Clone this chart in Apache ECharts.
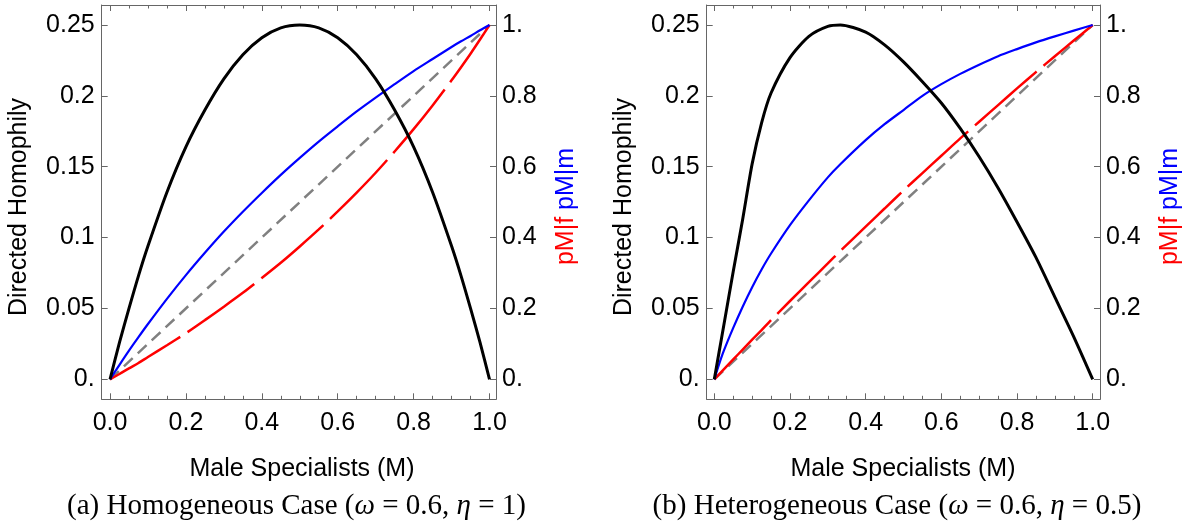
<!DOCTYPE html>
<html><head><meta charset="utf-8">
<script src="https://cdn.jsdelivr.net/npm/echarts@6/dist/echarts.min.js"></script>
<style>html,body{margin:0;padding:0;background:#fff}#c{width:1192px;height:525px}</style>
</head><body><div id="c"></div>
<script>
// ---- tick values ----
const xTicks = [0, 0.2, 0.4, 0.6, 0.8, 1.0];
const xMinorTicks = [0.05, 0.1, 0.15, 0.25, 0.3, 0.35, 0.45, 0.5, 0.55, 0.65, 0.7, 0.75, 0.85, 0.9, 0.95];
const leftTicks = [0, 0.05, 0.1, 0.15, 0.2, 0.25];
const rightTicks = [0, 0.2, 0.4, 0.6, 0.8, 1.0];

// ---- diagonal reference (gray dashed) ----
const diagM = [0, 1];
const diagP = [0, 1];

// ---- (a) Homogeneous case ----
const mA = [0, 0.025, 0.05, 0.075, 0.1, 0.15, 0.2, 0.25, 0.3, 0.35, 0.4, 0.45, 0.5, 0.55, 0.6, 0.65, 0.7, 0.75, 0.8, 0.85, 0.9, 0.925, 0.95, 0.975, 1];
const blackA = [0, 0.026, 0.050, 0.073, 0.094, 0.132, 0.164, 0.190, 0.212, 0.229, 0.241, 0.248, 0.25, 0.248, 0.241, 0.229, 0.212, 0.190, 0.164, 0.132, 0.094, 0.073, 0.050, 0.026, 0];
const blueA = [0, 0.041, 0.081, 0.119, 0.156, 0.227, 0.294, 0.357, 0.417, 0.473, 0.526, 0.577, 0.625, 0.671, 0.714, 0.756, 0.795, 0.833, 0.870, 0.904, 0.938, 0.954, 0.969, 0.985, 1];
const redA = [0, 0.015, 0.031, 0.046, 0.063, 0.096, 0.130, 0.167, 0.205, 0.244, 0.286, 0.329, 0.375, 0.423, 0.474, 0.527, 0.583, 0.643, 0.706, 0.773, 0.844, 0.881, 0.919, 0.959, 1];

// ---- (b) Heterogeneous case ----
const mB = [0, 0.0125, 0.025, 0.05, 0.075, 0.1, 0.125, 0.15, 0.2, 0.25, 0.3, 0.333, 0.4, 0.45, 0.5, 0.55, 0.6, 0.65, 0.7, 0.75, 0.8, 0.85, 0.9, 0.95, 1];
const blackB = [0, 0.019, 0.038, 0.076, 0.113, 0.152, 0.181, 0.202, 0.227, 0.242, 0.249, 0.25, 0.245, 0.236, 0.224, 0.210, 0.195, 0.177, 0.157, 0.135, 0.111, 0.086, 0.058, 0.030, 0];
const blueB = [0, 0.042, 0.08, 0.145, 0.205, 0.26, 0.31, 0.355, 0.435, 0.505, 0.57, 0.607, 0.675, 0.72, 0.76, 0.80, 0.833, 0.862, 0.888, 0.912, 0.932, 0.951, 0.968, 0.984, 1];
const redB = [0, 0.014, 0.028, 0.056, 0.084, 0.112, 0.139, 0.167, 0.221, 0.274, 0.327, 0.362, 0.431, 0.482, 0.533, 0.582, 0.631, 0.680, 0.727, 0.774, 0.821, 0.867, 0.912, 0.956, 1];

const FONT = 'Liberation Sans';
const FRAME = '#666';
const zip = (xs, ys) => xs.map((x, i) => [x, ys[i]]);

const panels = [
  { left: 101.7, width: 394.3, xMin: -0.0219, xMax: 1.0171, m: mA, black: blackA, blue: blueA, red: redA },
  { left: 706.7, width: 393.3, xMin: -0.0201, xMax: 1.0193, m: mB, black: blackB, blue: blueB, red: redB }
];
const yLeftMin = -0.01411, yLeftMax = 0.26411;
const yRightMin = -0.05645, yRightMax = 1.05645;

const grid = [], xAxis = [], yAxis = [], series = [];
panels.forEach((p, i) => {
  grid.push({ left: p.left, top: 5, width: p.width, height: 394.3 });
  const baseX = { gridIndex: i, type: 'value', min: p.xMin, max: p.xMax, splitLine: { show: false } };
  xAxis.push(Object.assign({}, baseX, {
    position: 'bottom',
    axisLine: { show: true, onZero: false, lineStyle: { color: FRAME, width: 1 } },
    axisTick: { show: true, inside: true, length: 6, customValues: xTicks, lineStyle: { color: FRAME } },
    axisLabel: { show: true, customValues: xTicks, formatter: v => v.toFixed(1), fontSize: 25, fontFamily: FONT, color: '#000', margin: 11 }
  }));
  xAxis.push(Object.assign({}, baseX, {
    position: 'bottom',
    axisLine: { show: false, onZero: false },
    axisTick: { show: true, inside: true, length: 3.5, customValues: xMinorTicks, lineStyle: { color: FRAME } },
    axisLabel: { show: false }
  }));
  xAxis.push(Object.assign({}, baseX, {
    position: 'top',
    axisLine: { show: true, onZero: false, lineStyle: { color: FRAME, width: 1 } },
    axisTick: { show: true, inside: true, length: 6, customValues: xTicks, lineStyle: { color: FRAME } },
    axisLabel: { show: false }
  }));
  xAxis.push(Object.assign({}, baseX, {
    position: 'top',
    axisLine: { show: false, onZero: false },
    axisTick: { show: true, inside: true, length: 3.5, customValues: xMinorTicks, lineStyle: { color: FRAME } },
    axisLabel: { show: false }
  }));
  yAxis.push({
    gridIndex: i, type: 'value', position: 'left', min: yLeftMin, max: yLeftMax, splitLine: { show: false },
    axisLine: { show: true, onZero: false, lineStyle: { color: FRAME, width: 1 } },
    axisTick: { show: true, inside: true, length: 6, customValues: leftTicks, lineStyle: { color: FRAME } },
    axisLabel: { show: true, customValues: leftTicks, formatter: v => (v === 0 ? '0.' : String(v)), fontSize: 25, fontFamily: FONT, color: '#000', margin: 7 }
  });
  yAxis.push({
    gridIndex: i, type: 'value', position: 'right', min: yRightMin, max: yRightMax, splitLine: { show: false },
    axisLine: { show: true, onZero: false, lineStyle: { color: FRAME, width: 1 } },
    axisTick: { show: true, inside: true, length: 6, customValues: rightTicks, lineStyle: { color: FRAME } },
    axisLabel: { show: true, customValues: rightTicks, formatter: v => (v === 0 ? '0.' : v === 1 ? '1.' : String(v)), fontSize: 25, fontFamily: FONT, color: '#000', margin: 6 }
  });
  const xi = 4 * i, yl = 2 * i, yr = 2 * i + 1;
  const common = { type: 'line', showSymbol: false, symbol: 'none', xAxisIndex: xi, animation: false, silent: true };
  series.push(Object.assign({}, common, { yAxisIndex: yr, z: 2, data: zip(diagM, diagP), lineStyle: { color: '#808080', width: 2.5, type: [12, 7] } }));
  series.push(Object.assign({}, common, { yAxisIndex: yr, z: 3, smooth: 0.25, data: zip(p.m, p.red), lineStyle: { color: '#ff0000', width: 2.5, type: [82, 9] } }));
  series.push(Object.assign({}, common, { yAxisIndex: yr, z: 4, smooth: 0.25, data: zip(p.m, p.blue), lineStyle: { color: '#0000ff', width: 2.2 } }));
  series.push(Object.assign({}, common, { yAxisIndex: yl, z: 5, smooth: 0.25, data: zip(p.m, p.black), lineStyle: { color: '#000', width: 3 } }));
});

const txt = (x, y, text, extra) => ({ type: 'text', x, y, style: Object.assign({ text, fontFamily: FONT, fontSize: 25, fill: '#000', align: 'center', verticalAlign: 'middle' }, extra || {}) });
const rotTxt = (x, y, style) => ({ type: 'text', x, y, rotation: Math.PI / 2, style: Object.assign({ fontFamily: FONT, fontSize: 25, fill: '#000', align: 'center', verticalAlign: 'middle' }, style) });
const capRich = {
  n: { fontFamily: 'Liberation Serif', fontSize: 29, fill: '#000' },
  i: { fontFamily: 'Liberation Serif', fontSize: 29, fontStyle: 'italic', fill: '#000' }
};
const pRich = { r: { fill: '#ff0000', fontSize: 25, fontFamily: FONT }, b: { fill: '#0000ff', fontSize: 25, fontFamily: FONT } };
const graphic = [
  rotTxt(19.5, 207, { text: 'Directed Homophily' }),
  rotTxt(624.5, 207, { text: 'Directed Homophily' }),
  rotTxt(566, 206.5, { text: '{r|pM|f} {b|pM|m}', rich: pRich }),
  rotTxt(1170, 206.5, { text: '{r|pM|f} {b|pM|m}', rich: pRich }),
  txt(302, 469, 'Male Specialists (M)'),
  txt(903, 469, 'Male Specialists (M)'),
  { type: 'text', x: 296.5, y: 506, style: { text: '{n|(a) Homogeneous Case (}{i|ω}{n| = 0.6, }{i|η}{n| = 1)}', rich: capRich, align: 'center', verticalAlign: 'middle' } },
  { type: 'text', x: 897, y: 506, style: { text: '{n|(b) Heterogeneous Case (}{i|ω}{n| = 0.6, }{i|η}{n| = 0.5)}', rich: capRich, align: 'center', verticalAlign: 'middle' } }
];

const chart = echarts.init(document.getElementById('c'), null, { renderer: 'canvas' });
chart.setOption({ animation: false, backgroundColor: '#fff', grid, xAxis, yAxis, series, graphic });
</script>
</body></html>
